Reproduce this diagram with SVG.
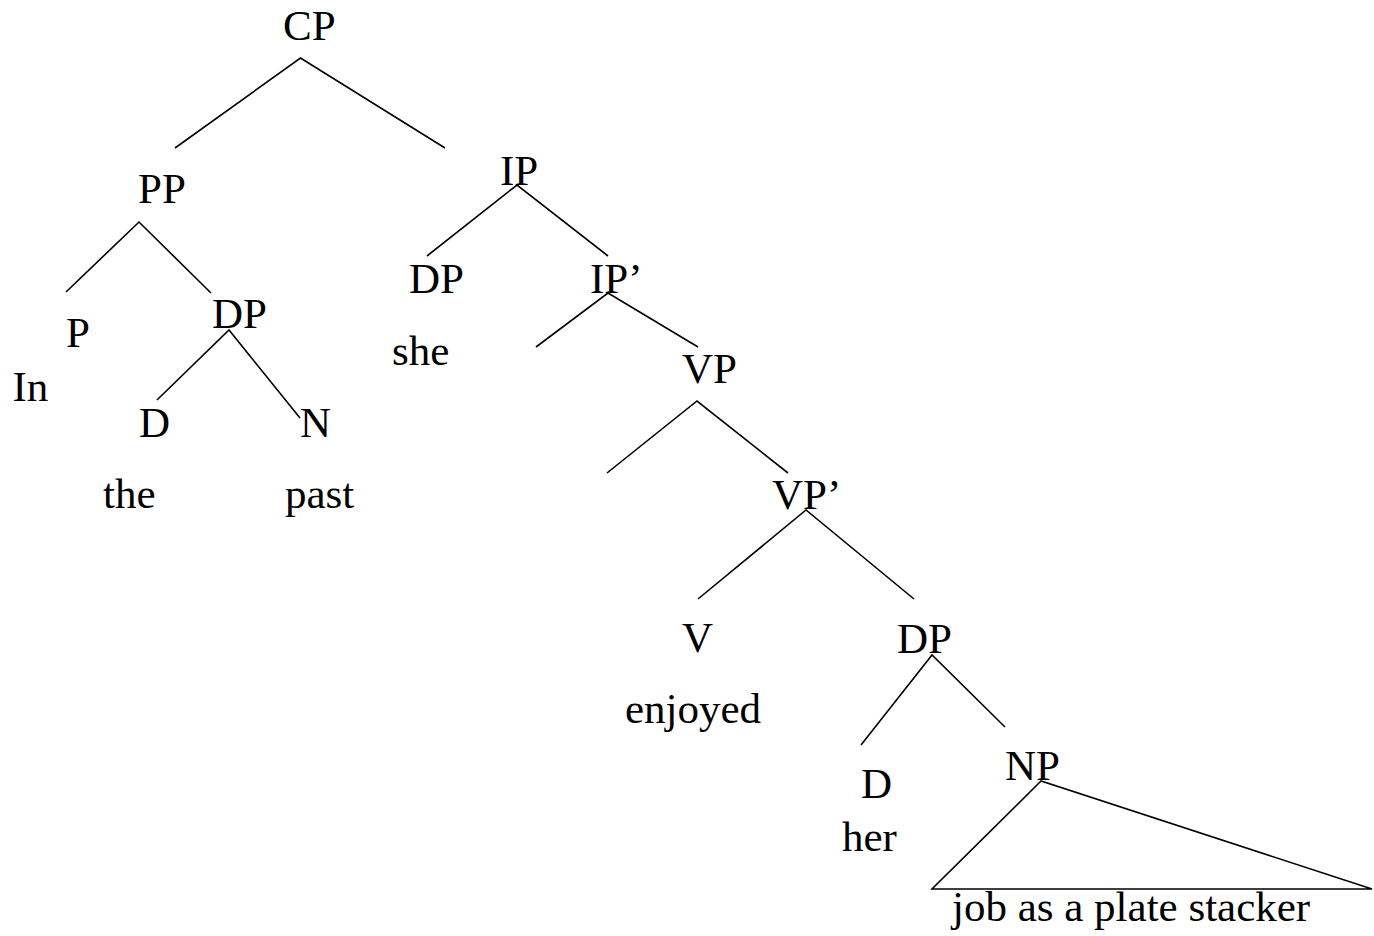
<svg xmlns="http://www.w3.org/2000/svg" width="1374" height="936" viewBox="0 0 1374 936">
<style>
text{font-family:"Liberation Serif","Times New Roman",serif;font-size:43px;fill:#000}
line,polyline,polygon{stroke:#000;stroke-width:1.6;fill:none}
</style>
<rect width="1374" height="936" fill="#fff"/>
<g id="connectors">
<polyline points="175,148 300.5,58 445,148"/>
<polyline points="66,292 139,222 211,293"/>
<polyline points="157,400 229,330 300,418"/>
<polyline points="427,256 517,185 608,256"/>
<polyline points="536,347 608,293 698,347"/>
<polyline points="607,473 697,401 788,473"/>
<polyline points="698,599 806,510 914,599"/>
<polyline points="861,745 932,655 1005,727"/>
<polygon points="1041,781 932,889 1372,889"/>
</g>
<g id="n-CP"><text x="283" y="40">CP</text></g>
<g id="n-PP"><text x="138" y="203">PP</text></g>
<g id="n-P"><text x="66" y="347">P</text></g>
<g id="n-In"><text x="12.5" y="401">In</text></g>
<g id="n-DP1"><text x="212" y="328">DP</text></g>
<g id="n-D1"><text x="139" y="437">D</text></g>
<g id="n-N"><text x="300" y="437">N</text></g>
<g id="n-the"><text x="103" y="508">the</text></g>
<g id="n-past"><text x="285" y="508">past</text></g>
<g id="n-IP"><text x="500" y="185">IP</text></g>
<g id="n-DP2"><text x="409" y="293">DP</text></g>
<g id="n-she"><text x="392" y="365">she</text></g>
<g id="n-IPbar"><text x="590" y="293">IP’</text></g>
<g id="n-VP"><text x="682" y="383">VP</text></g>
<g id="n-VPbar"><text x="772" y="509">VP’</text></g>
<g id="n-V"><text x="682" y="652">V</text></g>
<g id="n-enjoyed"><text x="625" y="723">enjoyed</text></g>
<g id="n-DP3"><text x="897" y="653">DP</text></g>
<g id="n-D2"><text x="861" y="798">D</text></g>
<g id="n-her"><text x="842" y="851">her</text></g>
<g id="n-NP"><text x="1005" y="780">NP</text></g>
<g id="n-job"><text x="952" y="921">job as a plate stacker</text></g>
</svg>
